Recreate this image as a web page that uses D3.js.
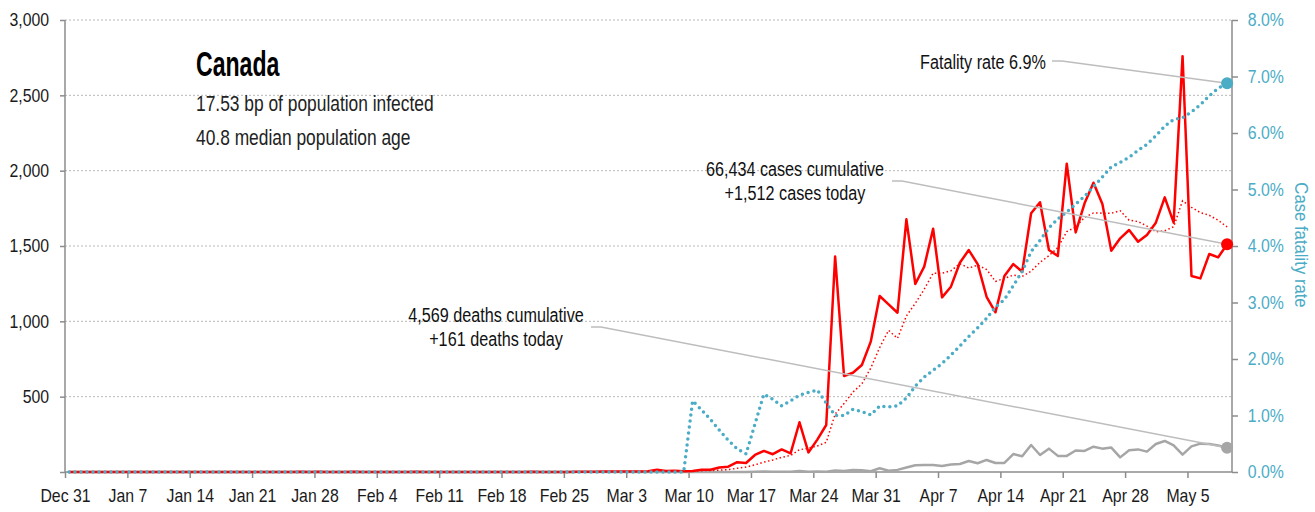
<!DOCTYPE html>
<html>
<head>
<meta charset="utf-8">
<script src="https://cdn.jsdelivr.net/npm/d3@7"></script>
<style>
  body { margin: 0; background: #fff; }
  svg text { font-family: "Liberation Sans", Arial, sans-serif; }
  .grid line { stroke: #b8b8b8; stroke-dasharray: 2,2; }
  .axis path, .axis line { stroke: #8c8c8c; stroke-width: 1.5; }
</style>
</head>
<body>
<svg id="chart" width="1315" height="512"></svg>
<script>
// day 0 = Dec 31 2019, one value per day up to May 9 2020
var cases = [
  0,0,0,0,0,0,0,0,0,0, 0,0,0,0,0,0,0,0,0,0, 0,0,0,0,0,0,1,0,1,0,
  0,0,1,0,0,0,0,0,0,2, 0,0,0,0,0,0,0,0,0,0, 0,0,1,0,0,0,0,2,1,2,
  4,4,3,3,3,5,15,6,8,5, 7,15,15,30,35,65,60,113,140,118,
  150,124,330,130,215,312,1430,637,659,710, 865,1168,1113,1057,1677,1248,1363,1615,1159,1230,
  1389,1473,1380,1163,1060,1301,1380,1329,1717,1790, 1473,1434,2046,1590,1783,1920,1779,1469,1551,1606,
  1529,1573,1655,1823,1655,2760,1301,1285,1447,1425, 1512
];

var deaths = [
  0,0,0,0,0,0,0,0,0,0, 0,0,0,0,0,0,0,0,0,0, 0,0,0,0,0,0,0,0,0,0,
  0,0,0,0,0,0,0,0,0,0, 0,0,0,0,0,0,0,0,0,0, 0,0,0,0,0,0,0,0,0,0,
  0,0,0,0,0,0,0,0,0,1, 0,0,0,0,0,0,0,2,4,1,
  1,2,6,2,4,1,10,6,13,12, 5,25,8,14,30,45,46,46,40,50,
  53,73,58,80,60,60,119,104,179,113, 155,107,107,143,140,168,155,162,97,144,
  150,135,186,206,176,115,170,188,186,176, 161
];

// case fatality rate, percent
var cfr = [
  0,0,0,0,0,0,0,0,0,0, 0,0,0,0,0,0,0,0,0,0, 0,0,0,0,0,0,0,0,0,0,
  0,0,0,0,0,0,0,0,0,0, 0,0,0,0,0,0,0,0,0,0, 0,0,0,0,0,0,0,0,0,0,
  0,0,0,0,0,0,0,0,0,0, 1.26,1.10,0.93,0.74,0.56,0.41,0.32,0.85,1.38,1.29,
  1.17,1.26,1.36,1.41,1.45,1.22,1.00,1.00,1.11,1.07, 1.01,1.17,1.15,1.17,1.31,1.52,1.68,1.80,1.92,2.07,
  2.23,2.40,2.55,2.72,2.92,3.05,3.30,3.55,3.90,4.10, 4.32,4.48,4.60,4.74,4.88,5.05,5.22,5.40,5.48,5.57,
  5.69,5.80,5.95,6.12,6.24,6.27,6.37,6.50,6.66,6.79, 6.88
];

var xTickDays = [0,7,14,21,28,35,42,49,56,63,70,77,84,91,98,105,112,119,126];
var xTickLabels = ["Dec 31","Jan 7","Jan 14","Jan 21","Jan 28","Feb 4","Feb 11","Feb 18","Feb 25",
  "Mar 3","Mar 10","Mar 17","Mar 24","Mar 31","Apr 7","Apr 14","Apr 21","Apr 28","May 5"];
var leftTicks = [0,500,1000,1500,2000,2500,3000];
var rightTicks = [0,1,2,3,4,5,6,7,8];

var titleLines = ["Canada", "17.53 bp of population infected", "40.8 median population age"];
var casesNote = ["66,434 cases cumulative", "+1,512 cases today"];
var deathsNote = ["4,569 deaths cumulative", "+161 deaths today"];
var rateNote = ["Fatality rate 6.9%"];

var RED = "#ff0000", BLUE = "#4bacc6", GREY = "#a6a6a6", LEADER = "#bdbdbd";

var svg = d3.select("#chart");
var mLeft = 65, mRight = 1232, mTop = 20, mBottom = 472;

var x = d3.scaleLinear().domain([0, 131]).range([mLeft, mRight]);
var y = d3.scaleLinear().domain([0, 3000]).range([mBottom, mTop]);
var yPct = d3.scaleLinear().domain([0, 8]).range([mBottom, mTop]);
var px = function(i) { return x(i + 0.45); };

// 7 day trailing average of daily cases
var avg7 = cases.map(function(v, i) {
  return d3.mean(cases.slice(Math.max(0, i - 6), i + 1));
});

// narrow text: Liberation Sans squeezed horizontally
function narrowText(sel, tx, ty, str, size, sx, anchor) {
  return sel.append("text")
    .attr("transform", "translate(" + tx + "," + ty + ") scale(" + sx + ",1)")
    .attr("text-anchor", anchor || "start")
    .attr("font-size", size)
    .text(str);
}

// grid
svg.append("g").attr("class", "grid")
  .selectAll("line").data(leftTicks.filter(function(d) { return d > 0; }))
  .enter().append("line")
  .attr("x1", mLeft).attr("x2", mRight)
  .attr("y1", function(d) { return y(d); }).attr("y2", function(d) { return y(d); });

// axes
var gx = svg.append("g").attr("class", "axis")
  .attr("transform", "translate(0," + mBottom + ")")
  .call(d3.axisBottom(x).tickValues(xTickDays).tickSize(6).tickPadding(11)
    .tickFormat(function(d, i) { return xTickLabels[i]; }));
gx.select(".domain").attr("d", "M" + mLeft + ",0H" + mRight);

var gy = svg.append("g").attr("class", "axis")
  .attr("transform", "translate(" + mLeft + ",0)")
  .call(d3.axisLeft(y).tickValues(leftTicks).tickSize(5).tickPadding(13)
    .tickFormat(function(d) { return d ? d3.format(",")(d) : ""; }));
gy.select(".domain").attr("d", "M0," + mTop + "V" + mBottom);

var gr = svg.append("g").attr("class", "axis")
  .attr("transform", "translate(" + mRight + ",0)")
  .call(d3.axisRight(yPct).tickValues(rightTicks).tickSize(6).tickPadding(12)
    .tickFormat(function(d) { return d.toFixed(1) + "%"; }));
gr.select(".domain").attr("d", "M0," + mTop + "V" + mBottom);

[gx, gy, gr].forEach(function(g) {
  g.selectAll("text").attr("font-size", 18).attr("fill", "#1a1a1a")
    .attr("transform", "scale(0.88,1)");
});
gr.selectAll("text").attr("fill", BLUE);

svg.append("text")
  .attr("transform", "translate(1295,245) rotate(90) scale(0.88,1)")
  .attr("text-anchor", "middle")
  .attr("font-size", 19)
  .attr("fill", BLUE)
  .text("Case fatality rate");

// lines
var line = function(scale) {
  return d3.line().x(function(d, i) { return px(i); }).y(function(d) { return scale(d); });
};

svg.append("path").datum(deaths)
  .attr("d", line(y)).attr("fill", "none")
  .attr("stroke", GREY).attr("stroke-width", 2.5).attr("stroke-linejoin", "round");

svg.append("path").datum(avg7)
  .attr("d", line(y)).attr("fill", "none")
  .attr("stroke", RED).attr("stroke-width", 1.5).attr("stroke-dasharray", "1.5,2.5");

svg.append("path").datum(cases)
  .attr("d", line(y)).attr("fill", "none")
  .attr("stroke", RED).attr("stroke-width", 2.5).attr("stroke-linejoin", "round");

svg.append("path").datum(cfr)
  .attr("d", line(yPct)).attr("fill", "none")
  .attr("stroke", BLUE).attr("stroke-width", 3.5)
  .attr("stroke-linecap", "round").attr("stroke-dasharray", "0,6");

var last = cases.length - 1;
var ends = [
  { v: yPct(cfr[last]), c: BLUE, from: [1052, 61], text: rateNote, tx: 1046, ty: 69, anchor: "end" },
  { v: y(cases[last]), c: RED, from: [892, 181], text: casesNote, tx: 795, ty: 176, anchor: "middle" },
  { v: y(deaths[last]), c: GREY, from: [591, 327], text: deathsNote, tx: 496, ty: 322, anchor: "middle" }
];

ends.forEach(function(e) {
  svg.append("polyline")
    .attr("points", [e.from, [e.from[0] + 10, e.from[1]], [px(last), e.v]].map(function(p) { return p.join(","); }).join(" "))
    .attr("fill", "none").attr("stroke", LEADER).attr("stroke-width", 1.5);
  svg.append("circle").attr("cx", px(last)).attr("cy", e.v).attr("r", 6).attr("fill", e.c);
  e.text.forEach(function(t, k) {
    narrowText(svg, e.tx, e.ty + k * 24, t, 20, 0.81, e.anchor).attr("fill", "#111");
  });
});

// title block
narrowText(svg, 196, 76, titleLines[0], 35, 0.66).attr("font-weight", "bold").attr("fill", "#000");
titleLines.slice(1).forEach(function(t, i) {
  narrowText(svg, 196, 111 + i * 34, t, 22, 0.79).attr("fill", "#222");
});
</script>
</body>
</html>
